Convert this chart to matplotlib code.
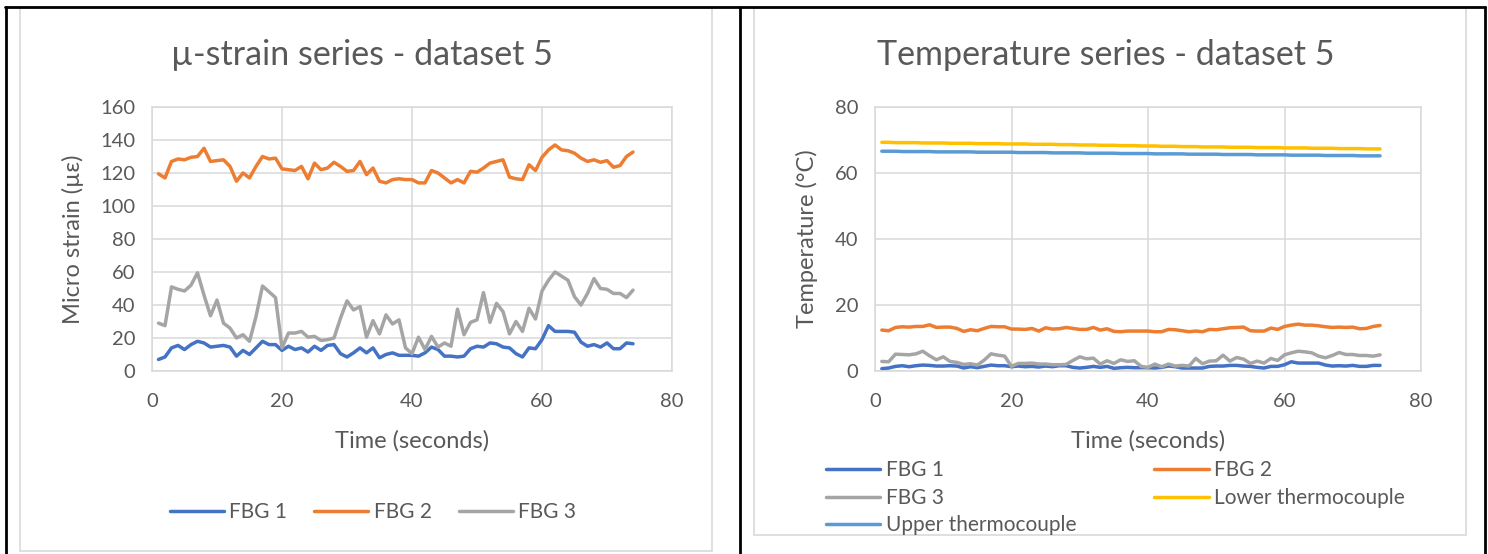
import matplotlib
matplotlib.use("Agg")
import matplotlib.pyplot as plt
from matplotlib.patches import Rectangle
from matplotlib.lines import Line2D

W, H = 1488, 554

# time axis (seconds)
time_s = list(range(1, 75))

# micro strain series
strain_fbg1 = [7, 8.5, 14, 15.5, 13, 16, 18, 17, 14.5, 15, 15.5, 14.5, 9, 12.5, 10, 14, 18, 16, 16, 12.5,
               15, 13, 14, 11.5, 15, 12.5, 15.5, 16, 10.5, 8.5, 11, 14, 11, 14, 8, 10, 11, 9.5, 9.5, 9.5,
               9, 11, 14.5, 13, 9, 9, 8.5, 9, 13.5, 15, 14.5, 17, 16.5, 14.5, 14, 10.5, 8.5, 14, 13.5, 19,
               27.5, 24, 24, 24, 23.5, 17.5, 15, 16, 14.5, 17, 13.5, 13.5, 17, 16.5]
strain_fbg2 = [119.5, 117, 127, 128.5, 128, 129.5, 130, 135, 127, 127.5, 128, 124, 115, 120, 117, 124, 130, 128.5, 129, 122.5,
               122, 121.5, 124, 116.5, 126, 122, 123, 126.5, 124, 121, 121.5, 127, 119, 123, 115, 114, 116, 116.5, 116, 116,
               114, 114, 121.5, 120, 117, 114, 116, 114, 121, 120.5, 123, 126, 127, 128, 117.5, 116.5, 116, 125, 121.5, 129.5,
               134, 137, 134, 133.5, 132, 129, 127, 128, 126.5, 127.5, 123.5, 124.5, 130, 132.7]
strain_fbg3 = [29, 27.5, 51, 49.5, 48.5, 52, 59.5, 46, 33.5, 43, 29, 26, 20, 22, 18, 33, 51.5, 48, 44.5, 14,
               23, 23, 24, 20.5, 21, 18.5, 19, 20, 32, 42.5, 37, 39, 20.5, 30.5, 22.5, 34, 28.5, 31, 14, 10.5,
               20.5, 13, 21, 14.5, 17, 15, 37.5, 22, 29.5, 31, 47.5, 29.5, 41, 36, 22.5, 30, 24, 38, 31.5, 48.5,
               55, 60, 57.5, 55, 45, 40, 47, 56, 50, 49.5, 47, 47, 44.5, 49]

# temperature series (deg C)
temp_fbg1 = [0.7, 0.9, 1.4, 1.6, 1.3, 1.6, 1.8, 1.7, 1.5, 1.5, 1.6, 1.5, 0.9, 1.3, 1.0, 1.4, 1.8, 1.6, 1.6, 1.3,
             1.5, 1.3, 1.4, 1.2, 1.5, 1.3, 1.6, 1.6, 1.1, 0.9, 1.1, 1.4, 1.1, 1.4, 0.8, 1.0, 1.1, 1.0, 1.0, 1.0,
             0.9, 1.1, 1.5, 1.3, 0.9, 0.9, 0.9, 0.9, 1.4, 1.5, 1.5, 1.7, 1.7, 1.5, 1.4, 1.1, 0.9, 1.4, 1.4, 1.9,
             2.8, 2.4, 2.4, 2.4, 2.4, 1.8, 1.5, 1.6, 1.5, 1.7, 1.4, 1.4, 1.7, 1.7]
temp_fbg2 = [12.4, 12.2, 13.2, 13.4, 13.3, 13.5, 13.5, 14.0, 13.2, 13.3, 13.3, 12.9, 12.0, 12.5, 12.2, 12.9, 13.5, 13.4, 13.4, 12.7,
             12.7, 12.6, 12.9, 12.1, 13.1, 12.7, 12.8, 13.2, 12.9, 12.6, 12.6, 13.2, 12.4, 12.8, 12.0, 11.9, 12.1, 12.1, 12.1, 12.1,
             11.9, 11.9, 12.6, 12.5, 12.2, 11.9, 12.1, 11.9, 12.6, 12.5, 12.8, 13.1, 13.2, 13.3, 12.2, 12.1, 12.1, 13.0, 12.6, 13.5,
             13.9, 14.2, 13.9, 13.9, 13.7, 13.4, 13.2, 13.3, 13.2, 13.3, 12.8, 12.9, 13.5, 13.8]
temp_fbg3 = [2.9, 2.8, 5.1, 5.0, 4.9, 5.2, 6.0, 4.6, 3.4, 4.3, 2.9, 2.6, 2.0, 2.2, 1.8, 3.3, 5.2, 4.8, 4.5, 1.4,
             2.3, 2.3, 2.4, 2.1, 2.1, 1.9, 1.9, 2.0, 3.2, 4.3, 3.7, 3.9, 2.1, 3.1, 2.3, 3.4, 2.9, 3.1, 1.4, 1.1,
             2.1, 1.3, 2.1, 1.5, 1.7, 1.5, 3.8, 2.2, 3.0, 3.1, 4.8, 3.0, 4.1, 3.6, 2.3, 3.0, 2.4, 3.8, 3.2, 4.9,
             5.5, 6.0, 5.8, 5.5, 4.5, 4.0, 4.7, 5.6, 5.0, 5.0, 4.7, 4.7, 4.5, 4.9]
temp_lower_tc = [69.3, 69.3, 69.2, 69.2, 69.2, 69.2, 69.1, 69.1, 69.1, 69.1,
                 69.0, 69.0, 69.0, 69.0, 68.9, 68.9, 68.9, 68.9, 68.8, 68.8,
                 68.8, 68.8, 68.7, 68.7, 68.7, 68.7, 68.6, 68.6, 68.6, 68.5,
                 68.5, 68.5, 68.4, 68.4, 68.4, 68.3, 68.3, 68.3, 68.2, 68.2,
                 68.2, 68.1, 68.1, 68.1, 68.0, 68.0, 68.0, 67.9, 67.9, 67.9,
                 67.9, 67.8, 67.8, 67.8, 67.8, 67.7, 67.7, 67.7, 67.7, 67.6,
                 67.6, 67.6, 67.6, 67.5, 67.5, 67.5, 67.5, 67.4, 67.4, 67.4,
                 67.4, 67.3, 67.3, 67.3]
temp_upper_tc = [66.6, 66.6, 66.6, 66.5, 66.5, 66.5, 66.5, 66.5, 66.4, 66.4,
                 66.4, 66.4, 66.4, 66.4, 66.3, 66.3, 66.3, 66.3, 66.3, 66.3,
                 66.2, 66.2, 66.2, 66.2, 66.2, 66.1, 66.1, 66.1, 66.1, 66.1,
                 66.0, 66.0, 66.0, 66.0, 66.0, 65.9, 65.9, 65.9, 65.9, 65.9,
                 65.8, 65.8, 65.8, 65.8, 65.8, 65.7, 65.7, 65.7, 65.7, 65.7,
                 65.6, 65.6, 65.6, 65.6, 65.6, 65.5, 65.5, 65.5, 65.5, 65.5,
                 65.4, 65.4, 65.4, 65.4, 65.4, 65.3, 65.3, 65.3, 65.3, 65.3,
                 65.2, 65.2, 65.2, 65.2]

BLUE = "#4472C4"
ORANGE = "#ED7D31"
GRAY = "#A5A5A5"
YELLOW = "#FFC000"
LBLUE = "#5B9BD5"
TXT = "#595959"
GRID = "#D9D9D9"

plt.rcParams["font.family"] = ["Lato", "DejaVu Sans"]
plt.rcParams["lines.solid_capstyle"] = "round"
plt.rcParams["lines.solid_joinstyle"] = "round"

fig = plt.figure(figsize=(W / 100, H / 100), dpi=100)


def fx(px):
    return px / W


def fy(py):
    return 1 - py / H


# table borders
fig.add_artist(Line2D([fx(5), fx(1485)], [fy(6.5), fy(6.5)], color="black", lw=2))
for xp in (6, 740, 1485):
    fig.add_artist(Line2D([fx(xp), fx(xp)], [fy(6.5), fy(554)], color="black", lw=2))

# chart frames
fig.add_artist(Rectangle((fx(20), fy(551)), fx(712 - 20), (551 - 8) / H, fill=False, ec=GRID, lw=1.2))
fig.add_artist(Rectangle((fx(754), fy(535)), fx(1466 - 754), (535 - 8) / H, fill=False, ec=GRID, lw=1.2))


def style_axes(ax):
    ax.grid(True, color=GRID, lw=1.1)
    ax.set_axisbelow(True)
    for s in ax.spines.values():
        s.set_color(GRID)
        s.set_linewidth(1.1)
    ax.tick_params(length=0, colors=TXT, labelsize=14.5)
    ax.tick_params(axis="x", pad=16)
    ax.tick_params(axis="y", pad=12)
    ax.set_xlim(0, 80)
    ax.set_xticks([0, 20, 40, 60, 80])


lw = 2.5

# left: micro strain
ax1 = fig.add_axes([fx(152), fy(371), fx(672 - 152), (371 - 107) / H])
ax1.plot(time_s, strain_fbg1, color=BLUE, lw=lw, label="FBG 1")
ax1.plot(time_s, strain_fbg2, color=ORANGE, lw=lw, label="FBG 2")
ax1.plot(time_s, strain_fbg3, color=GRAY, lw=lw, label="FBG 3")
style_axes(ax1)
ax1.set_ylim(0, 160)
ax1.set_yticks(range(0, 161, 20))
ax1.set_xlabel("Time (seconds)", color=TXT, fontsize=17, labelpad=14)
ax1.set_ylabel("Micro strain (µε)", color=TXT, fontsize=17, labelpad=12)
fig.text(fx(362), fy(55), "µ-strain series - dataset 5", color=TXT, fontsize=24.5, ha="center", va="center")
fig.legend(handles=ax1.get_lines(), loc="center", bbox_to_anchor=(fx(373), fy(512)), ncol=3, frameon=False,
           fontsize=15, labelcolor=TXT, handlelength=2.6, handletextpad=0.25, columnspacing=1.3)

# right: temperature
ax2 = fig.add_axes([fx(875), fy(371), fx(1421 - 875), (371 - 107) / H])
ax2.plot(time_s, temp_fbg1, color=BLUE, lw=lw, label="FBG 1")
ax2.plot(time_s, temp_fbg2, color=ORANGE, lw=lw, label="FBG 2")
ax2.plot(time_s, temp_fbg3, color=GRAY, lw=lw, label="FBG 3")
ax2.plot(time_s, temp_lower_tc, color=YELLOW, lw=lw, label="Lower thermocouple")
ax2.plot(time_s, temp_upper_tc, color=LBLUE, lw=lw, label="Upper thermocouple")
style_axes(ax2)
ax2.set_ylim(0, 80)
ax2.set_yticks(range(0, 81, 20))
ax2.set_xlabel("Time (seconds)", color=TXT, fontsize=17, labelpad=14)
ax2.set_ylabel("Temperature (°C)", color=TXT, fontsize=17, labelpad=12)
fig.text(fx(1106), fy(55), "Temperature series - dataset 5", color=TXT, fontsize=24.5, ha="center", va="center")

lines = ax2.get_lines()
col1 = [lines[0], lines[2], lines[4]]
col2 = [lines[1], lines[3]]
fig.legend(handles=col1, loc="upper left", bbox_to_anchor=(fx(818), fy(452)), frameon=False, borderaxespad=0,
           fontsize=15, labelcolor=TXT, handlelength=2.6, handletextpad=0.25, labelspacing=0.36)
fig.legend(handles=col2, loc="upper left", bbox_to_anchor=(fx(1146), fy(452)), frameon=False, borderaxespad=0,
           fontsize=15, labelcolor=TXT, handlelength=2.6, handletextpad=0.25, labelspacing=0.36)

fig.savefig("out.png", dpi=100, facecolor="white")
